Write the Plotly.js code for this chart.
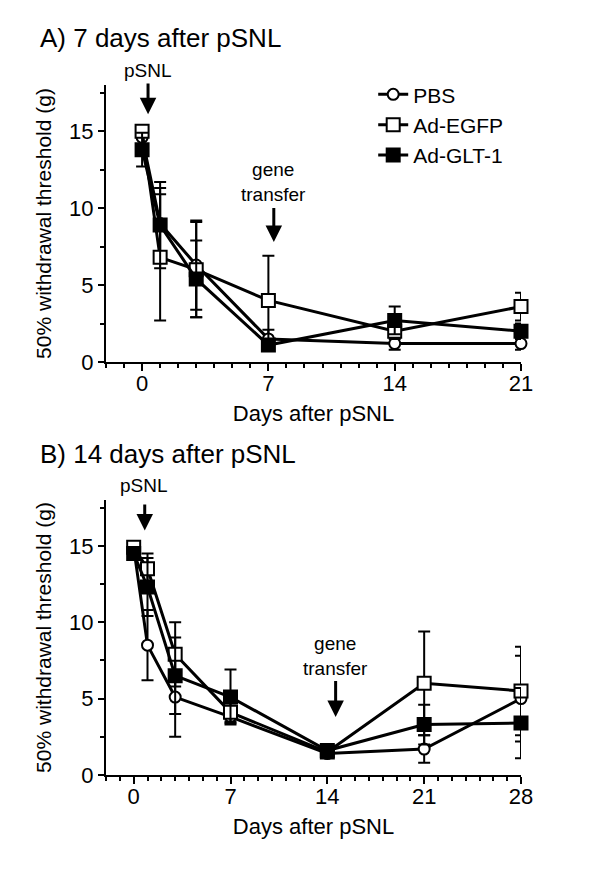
<!DOCTYPE html>
<html>
<head>
<meta charset="utf-8">
<script src="https://cdn.plot.ly/plotly-3.0.1.min.js"></script>
<style>html,body{margin:0;padding:0;background:#fff;}#chart{width:600px;height:873px;}</style>
</head>
<body>
<div id="chart"></div>
<script>
// ---- Panel A: 7 days after pSNL ----
const daysA = [0, 1, 3, 7, 14, 21];
const pbsA = [14.6, 9.0, 6.3, 1.5, 1.2, 1.2];
const pbsAErr = [0.5, 2.3, 2.9, 0.6, 0.4, 0.4];
const egfpA = [15.0, 6.8, 6.0, 4.0, 2.0, 3.6];
const egfpAErr = [0.3, 4.1, 3.1, 2.9, 0.5, 0.9];
const gltA = [13.8, 8.9, 5.4, 1.1, 2.7, 2.0];
const gltAErr = [1.1, 2.8, 2.5, 0.3, 0.9, 0.5];

// ---- Panel B: 14 days after pSNL ----
const daysB = [0, 1, 3, 7, 14, 21, 28];
const pbsB = [14.9, 8.5, 5.1, 3.8, 1.4, 1.7, 5.0];
const pbsBErr = [0.2, 2.3, 2.6, 0.4, 0.2, 0.9, 2.8];
const egfpB = [14.9, 13.5, 7.9, 4.1, 1.5, 6.0, 5.5];
const egfpBErr = [0.2, 1.0, 2.1, 0.6, 0.3, 3.4, 2.9];
const gltB = [14.5, 12.3, 6.5, 5.1, 1.6, 3.3, 3.4];
const gltBErr = [0.4, 1.9, 2.5, 1.8, 0.3, 1.3, 2.3];

const seriesNames = ['PBS', 'Ad-EGFP', 'Ad-GLT-1'];
const xTicksA = [0, 7, 14, 21];
const xTicksB = [0, 7, 14, 21, 28];
const yTicks = [0, 5, 10, 15];

const FONT = 'Liberation Sans, Arial, Helvetica, sans-serif';
const styles = [
  {symbol: 'circle', size: 11, color: '#ffffff'},
  {symbol: 'square', size: 13, color: '#ffffff'},
  {symbol: 'square', size: 13, color: '#000000'}
];

function mk(x, y, err, idx, xa, ya, showlegend) {
  const s = styles[idx];
  return {
    type: 'scatter', mode: 'lines+markers',
    x: x, y: y, name: seriesNames[idx],
    xaxis: xa, yaxis: ya, showlegend: showlegend,
    line: {color: '#000', width: 3},
    marker: {symbol: s.symbol, size: s.size, color: s.color, line: {color: '#000', width: 2}},
    error_y: {type: 'data', array: err, visible: true, color: '#000', thickness: 2, width: 6},
    cliponaxis: false
  };
}

const data = [
  mk(daysA, pbsA, pbsAErr, 0, 'x', 'y', true),
  mk(daysA, egfpA, egfpAErr, 1, 'x', 'y', true),
  mk(daysA, gltA, gltAErr, 2, 'x', 'y', true),
  mk(daysB, pbsB, pbsBErr, 0, 'x2', 'y2', false),
  mk(daysB, egfpB, egfpBErr, 1, 'x2', 'y2', false),
  mk(daysB, gltB, gltBErr, 2, 'x2', 'y2', false)
];

function xax(range, ticks, anchor) {
  return {
    domain: [106/600, 521/600], range: range, anchor: anchor,
    tickvals: ticks, ticktext: ticks.map(String),
    ticks: 'outside', ticklen: 7, tickwidth: 2, tickcolor: '#000',
    minor: {dtick: 1, tick0: 0, ticks: 'outside', ticklen: 4, tickwidth: 2, tickcolor: '#000'},
    showline: true, linewidth: 2, linecolor: '#000',
    showgrid: false, zeroline: false,
    tickfont: {family: FONT, size: 22, color: '#000'},
    ticklabelstandoff: -6,
    title: {text: 'Days after pSNL', font: {family: FONT, size: 22, color: '#000'}, standoff: 10},
    automargin: false
  };
}
function yax(domain, anchor) {
  return {
    domain: domain, range: [0, 18], anchor: anchor,
    tickvals: yTicks, ticktext: yTicks.map(String),
    ticks: 'outside', ticklen: 6, tickwidth: 2, tickcolor: '#000',
    minor: {dtick: 2.5, tick0: 0, ticks: 'outside', ticklen: 4, tickwidth: 2, tickcolor: '#000'},
    showline: true, linewidth: 2, linecolor: '#000',
    showgrid: false, zeroline: false,
    tickfont: {family: FONT, size: 22, color: '#000'},
    title: {text: '50% withdrawal threshold (g)', font: {family: FONT, size: 21, color: '#000'}, standoff: 12},
    automargin: false
  };
}

function arrow(xref, yref, x, yTip, yTail) {
  return {xref: xref, yref: yref, axref: xref, ayref: yref, x: x, y: yTip, ax: x, ay: yTail,
    text: '', showarrow: true, arrowhead: 2, arrowsize: 1.1, arrowwidth: 3, arrowcolor: '#000', standoff: 0};
}
function label(xref, yref, x, y, text) {
  return {xref: xref, yref: yref, x: x, y: y, text: text, showarrow: false,
    xanchor: 'center', yanchor: 'middle', font: {family: FONT, size: 19, color: '#000'}};
}

const layout = {
  width: 600, height: 873,
  margin: {l: 0, r: 0, t: 0, b: 0},
  paper_bgcolor: '#fff', plot_bgcolor: '#fff',
  font: {family: FONT, color: '#000'},
  showlegend: true,
  legend: {x: 0.622, y: 0.915, xanchor: 'left', yanchor: 'top', bgcolor: 'rgba(0,0,0,0)',
    font: {family: FONT, size: 21, color: '#000'}, itemwidth: 30, tracegroupgap: 0},
  xaxis: xax([-2, 21], xTicksA, 'y'),
  yaxis: yax([(873-362)/873, (873-85)/873], 'x'),
  xaxis2: xax([-2, 28], xTicksB, 'y2'),
  yaxis2: yax([(873-775)/873, (873-500)/873], 'x2'),
  annotations: [
    {xref: 'paper', yref: 'paper', x: 38/600, y: (873-38)/873, xanchor: 'left', yanchor: 'middle',
      text: 'A) 7 days after pSNL', showarrow: false, font: {family: FONT, size: 26, color: '#000'}},
    {xref: 'paper', yref: 'paper', x: 38/600, y: (873-454)/873, xanchor: 'left', yanchor: 'middle',
      text: 'B) 14 days after pSNL', showarrow: false, font: {family: FONT, size: 26, color: '#000'}},
    label('paper', 'paper', 148/600, (873-70)/873, 'pSNL'),
    arrow('x', 'y', 0.33, 16.1, 18.2),
    label('x', 'y', 7.3, 11.7, 'gene<br>transfer'),
    arrow('x', 'y', 7.3, 7.8, 10.1),
    label('paper', 'paper', 143.5/600, (873-485)/873, 'pSNL'),
    arrow('x2', 'y2', 0.8, 16.0, 17.8),
    label('x2', 'y2', 14.6, 7.8, 'gene<br>transfer'),
    arrow('x2', 'y2', 14.6, 3.8, 6.25)
  ]
};

Plotly.newPlot('chart', data, layout, {staticPlot: true, displayModeBar: false});
</script>
</body>
</html>
